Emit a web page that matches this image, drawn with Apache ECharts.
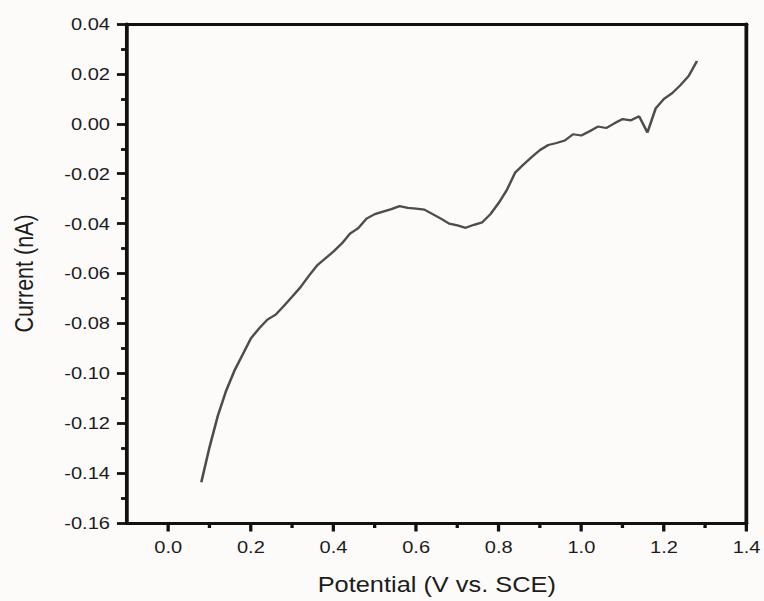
<!DOCTYPE html>
<html>
<head>
<meta charset="utf-8">
<script src="https://cdn.jsdelivr.net/npm/echarts@6/dist/echarts.min.js"></script>
<style>
html,body{margin:0;padding:0;background:#fcfbfa;overflow:hidden;width:764px;height:601px;}
#chart{width:647.5px;height:601px;transform:scaleX(1.18);transform-origin:0 0;}
</style>
</head>
<body>
<div id="chart"></div>
<script>
const potential = [0.08,0.10,0.12,0.14,0.16,0.18,0.20,0.22,0.24,0.26,0.28,0.30,0.32,0.34,0.36,0.38,0.40,0.42,0.44,0.46,0.48,0.50,0.52,0.54,0.56,0.58,0.60,0.62,0.64,0.66,0.68,0.70,0.72,0.74,0.76,0.78,0.80,0.82,0.84,0.86,0.88,0.90,0.92,0.94,0.96,0.98,1.00,1.02,1.04,1.06,1.08,1.10,1.12,1.14,1.16,1.18,1.20,1.22,1.24,1.26,1.28];
const current = [-0.1437,-0.1295,-0.1170,-0.1070,-0.0990,-0.0925,-0.0860,-0.0820,-0.0785,-0.0765,-0.0730,-0.0693,-0.0655,-0.0610,-0.0568,-0.0540,-0.0512,-0.0480,-0.0440,-0.0418,-0.0380,-0.0362,-0.0352,-0.0342,-0.0330,-0.0337,-0.0340,-0.0344,-0.0362,-0.0380,-0.0400,-0.0407,-0.0417,-0.0405,-0.0395,-0.0362,-0.0317,-0.0264,-0.0195,-0.0163,-0.0133,-0.0105,-0.0085,-0.0077,-0.0067,-0.0042,-0.0047,-0.0030,-0.0011,-0.0017,0.0002,0.0019,0.0014,0.0030,-0.0035,0.0062,0.0100,0.0123,0.0155,0.0192,0.0252];
const xMajorTicks = [0.0,0.2,0.4,0.6,0.8,1.0,1.2,1.4];
const xMinorTicks = [0.1,0.3,0.5,0.7,0.9,1.1,1.3];
const xTitle = 'Potential (V vs. SCE)';
const yTitle = 'Current (nA)';

const axisColor = '#111111';
const textColor = '#1c1c1c';
const font = '"Liberation Sans", Arial, sans-serif';
const chart = echarts.init(document.getElementById('chart'), null, {renderer: 'svg', width: 647.5, height: 601});
chart.setOption({
  backgroundColor: '#fcfbfa',
  animation: false,
  grid: {left: 107.6, right: 13.6, top: 24, bottom: 77},
  xAxis: [{
    type: 'value', min: -0.1, max: 1.4, interval: 0.1,
    position: 'bottom',
    name: xTitle, nameLocation: 'middle', nameGap: 51,
    nameTextStyle: {fontFamily: font, fontSize: 21.5, color: textColor},
    axisLine: {show: true, onZero: false, lineStyle: {color: axisColor, width: 3.2}},
    axisTick: {show: true, length: 8.5, inside: false, customValues: xMajorTicks, lineStyle: {color: axisColor, width: 2.8}},
    axisLabel: {show: true, customValues: xMajorTicks, margin: 16, fontFamily: font, fontSize: 17, color: textColor,
      formatter: v => v.toFixed(1)},
    splitLine: {show: false}
  }, {
    type: 'value', min: -0.1, max: 1.4, interval: 0.1,
    position: 'bottom',
    axisLine: {show: false, onZero: false},
    axisTick: {show: true, length: 5, customValues: xMinorTicks, lineStyle: {color: axisColor, width: 2.8}},
    axisLabel: {show: false},
    splitLine: {show: false}
  }, {
    type: 'value', min: -0.1, max: 1.4, position: 'top',
    axisLine: {show: true, onZero: false, lineStyle: {color: axisColor, width: 3.2}},
    axisTick: {show: false}, axisLabel: {show: false}, splitLine: {show: false}
  }],
  yAxis: [{
    type: 'value', min: -0.16, max: 0.04, interval: 0.02,
    position: 'left',
    name: yTitle, nameLocation: 'middle', nameGap: 76, nameRotate: 90,
    nameTextStyle: {fontFamily: font, fontSize: 21.5, color: textColor},
    axisLine: {show: true, onZero: false, lineStyle: {color: axisColor, width: 3.2}},
    axisTick: {show: true, length: 8.5, lineStyle: {color: axisColor, width: 2.8}},
    minorTick: {show: true, splitNumber: 2, length: 5, lineStyle: {color: axisColor, width: 2.8}},
    axisLabel: {margin: 14.4, fontFamily: font, fontSize: 17, color: textColor, formatter: v => v.toFixed(2)},
    splitLine: {show: false}
  }, {
    type: 'value', min: -0.16, max: 0.04, position: 'right',
    axisLine: {show: true, onZero: false, lineStyle: {color: axisColor, width: 3.2}},
    axisTick: {show: false}, axisLabel: {show: false}, splitLine: {show: false}
  }],
  series: [{
    type: 'line',
    data: potential.map((x, i) => [x, current[i]]),
    showSymbol: false,
    lineStyle: {color: '#4d4d4d', width: 2.2},
    xAxisIndex: 0, yAxisIndex: 0
  }]
});
</script>
</body>
</html>
